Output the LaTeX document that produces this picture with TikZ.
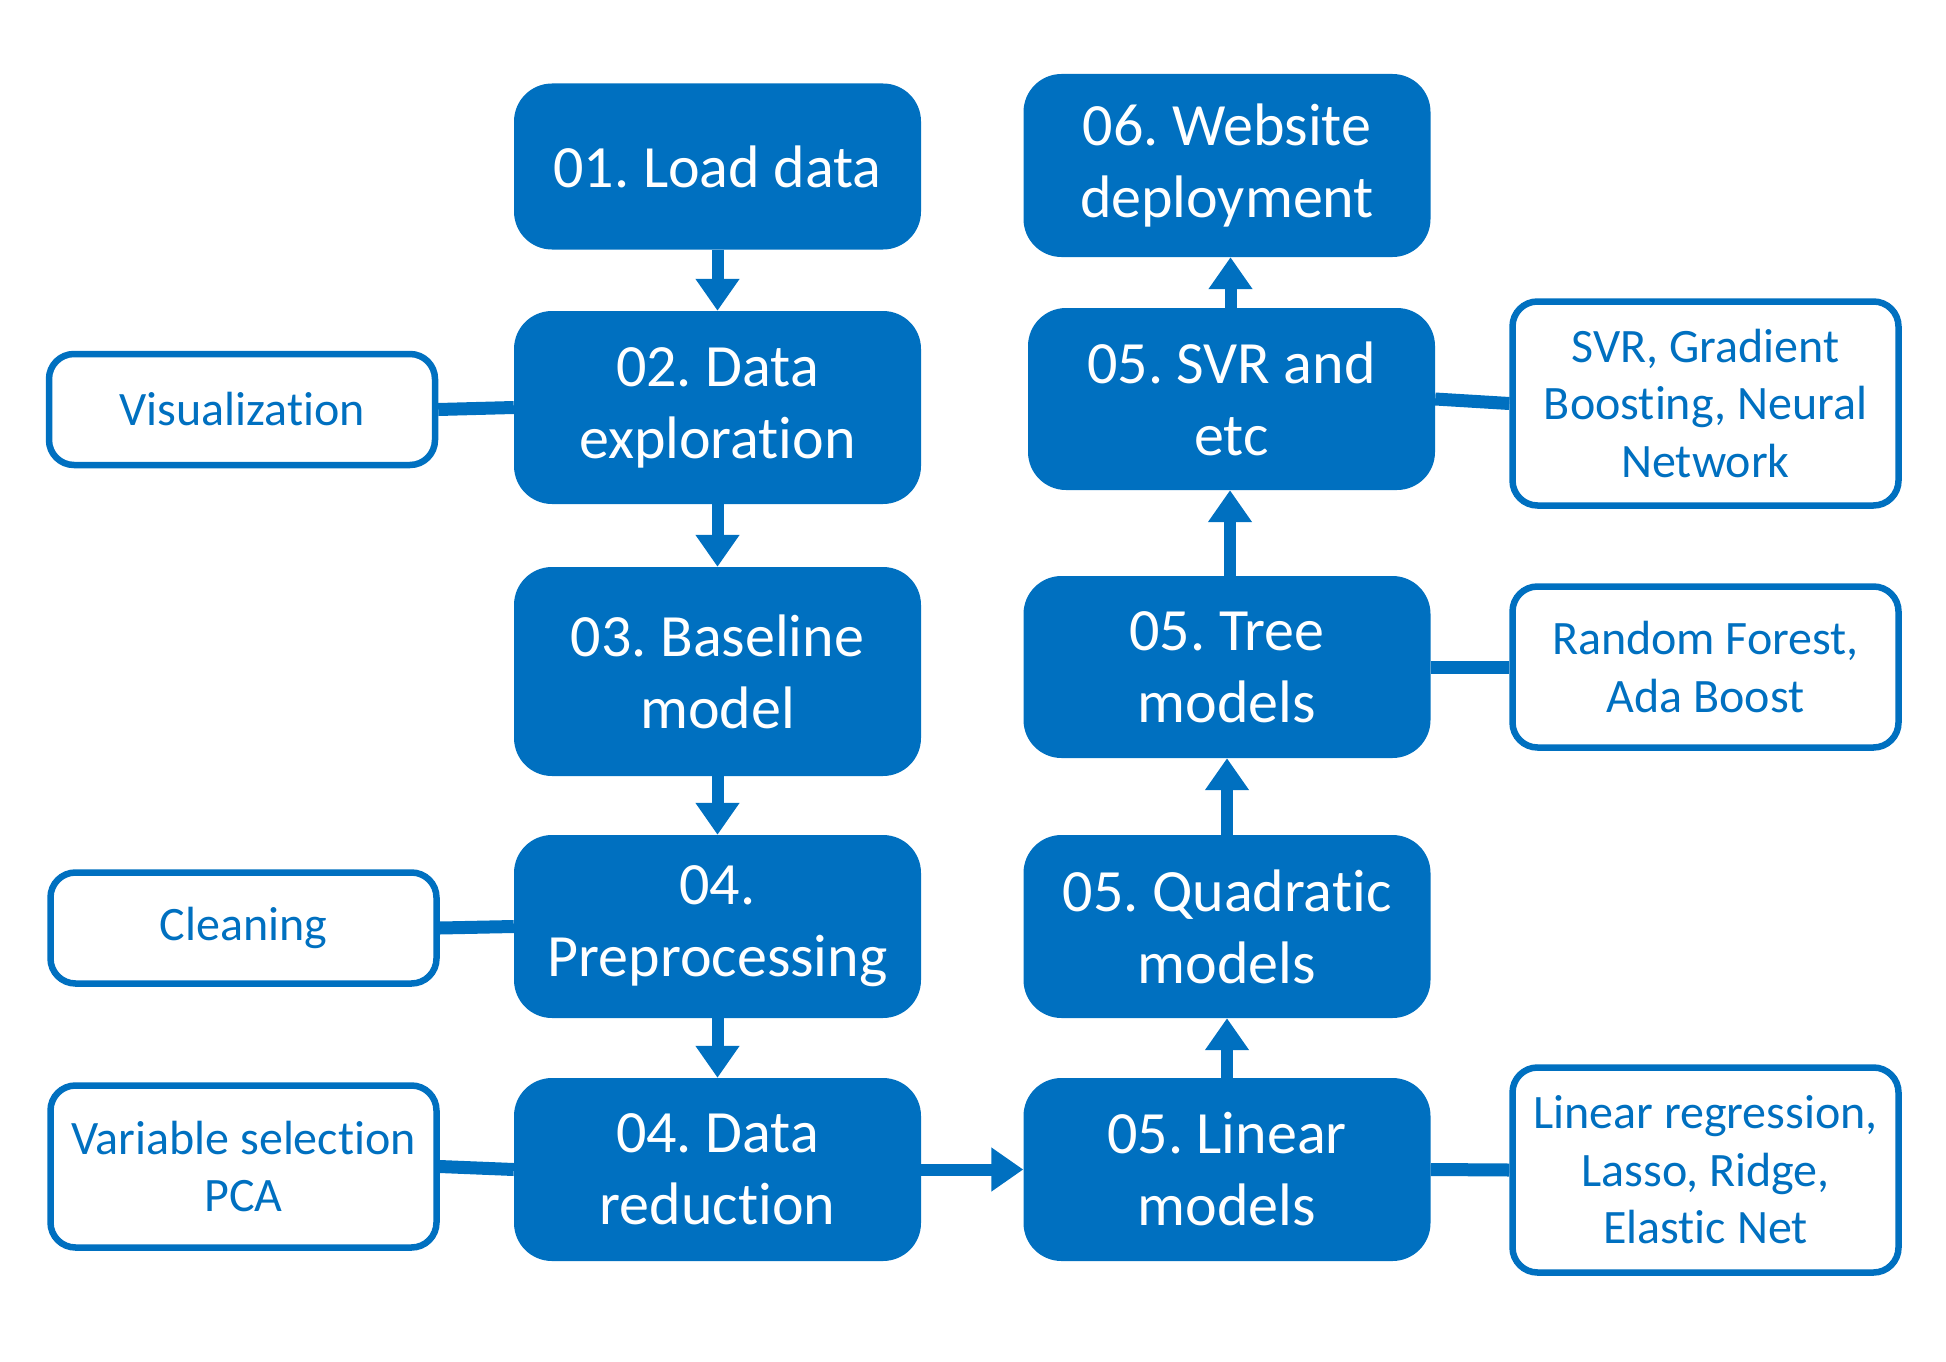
\documentclass[tikz,border=0pt]{standalone}
\usepackage{fontspec}
\setmainfont{Carlito}[Ligatures={NoCommon}]
\usetikzlibrary{arrows.meta}
\definecolor{obl}{HTML}{0070C0}
\frenchspacing
\tikzset{
  mainbox/.style={fill=obl, rounded corners=38pt, text=white, align=center,
    font=\fontsize{60}{72}\selectfont, minimum width=407pt, inner sep=0pt},
  sidebox/.style={draw=obl, line width=6.5pt, fill=white, rounded corners=25pt, text=obl,
    align=center, font=\fontsize{48}{57.6}\selectfont, minimum width=386pt, inner sep=0pt},
  arr/.style={draw=obl, line width=12pt, -{Triangle[width=42pt,length=32pt]}},
  link/.style={draw=obl, line width=13pt}
}
\begin{document}
\begin{tikzpicture}[x=1pt,y=-1pt]
\useasboundingbox (0,0) rectangle (1946,1362);
% main column left
\node[mainbox, minimum height=166pt] (load) at (717.5,166.5) {01. Load data};
\node[mainbox, minimum height=193pt] (explore) at (717.5,407.5) {02. Data\\exploration};
\node[mainbox, minimum height=209pt] (baseline) at (717.5,671.5) {03. Baseline\\model};
\node[mainbox, minimum height=183pt] (prep) at (717.5,926.5) {04.\\Preprocessing};
\node[mainbox, minimum height=183pt] (reduce) at (717.5,1169.5) {04. Data\\reduction};
% main column right
\node[mainbox, minimum height=183pt] (linear) at (1227,1169.5) {05. Linear\\models};
\node[mainbox, minimum height=183pt] (quad) at (1227,926.5) {05. Quadratic\\models};
\node[mainbox, minimum height=182pt] (tree) at (1227,667) {05. Tree\\models};
\node[mainbox, minimum height=182pt] (svr) at (1231.5,399) {05. SVR and\\etc};
\node[mainbox, minimum height=183pt] (web) at (1227,165.5) {06. Website\\deployment};
% side boxes
\node[sidebox, minimum height=111pt] (vis) at (242,409.5) {Visualization};
\node[sidebox, minimum height=111pt] (clean) at (243.5,928) {Cleaning};
\node[sidebox, minimum height=162pt] (varsel) at (243.5,1166.5) {Variable selection\\PCA};
\node[sidebox, minimum height=204pt] (svrdesc) at (1705.5,403.5) {SVR, Gradient\\Boosting, Neural\\Network};
\node[sidebox, minimum height=161pt] (rf) at (1705.5,667) {Random Forest,\\Ada Boost};
\node[sidebox, minimum height=205pt] (lr) at (1705.5,1170) {Linear regression,\\Lasso, Ridge,\\Elastic Net};
% arrows
\draw[arr] (load.south) -- (explore.north);
\draw[arr] (explore.south) -- (baseline.north);
\draw[arr] (baseline.south) -- (prep.north);
\draw[arr] (prep.south) -- (reduce.north);
\draw[arr] (reduce.east) -- (linear.west);
\draw[arr] (linear.north) -- (quad.south);
\draw[arr] (quad.north) -- (tree.south);
\draw[arr] ([xshift=3pt]tree.north) -- ([xshift=3pt]tree.north |- svr.south);
\draw[arr] ([xshift=-1pt]svr.north) -- ([xshift=-1pt]svr.north |- web.south);
% links
\draw[link] (vis.east) -- (explore.west);
\draw[link] (clean.east) -- (prep.west);
\draw[link] (varsel.east) -- (reduce.west);
\draw[link] (svr.east) -- (svrdesc.west);
\draw[link] (tree.east) -- (rf.west);
\draw[link] (linear.east) -- (lr.west);
\end{tikzpicture}
\end{document}
